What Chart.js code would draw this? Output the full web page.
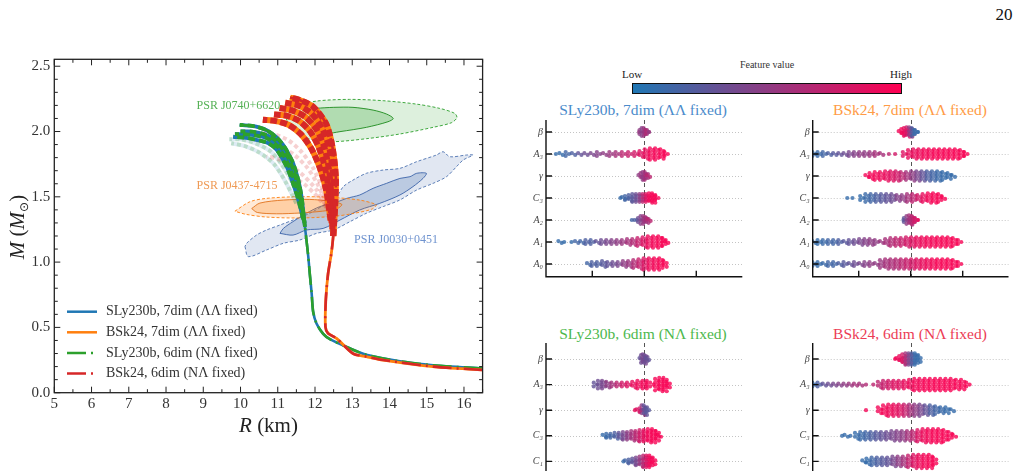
<!DOCTYPE html>
<html>
<head>
<meta charset="utf-8">
<script src="https://cdn.jsdelivr.net/npm/chart.js@4.4.1/dist/chart.umd.min.js"></script>
<style>
html, body { margin: 0; padding: 0; background: #fff; }
body { width: 1022px; height: 471px; overflow: hidden; position: relative; font-family: "Liberation Serif", serif; }
canvas { position: absolute; }
.txt { position: absolute; white-space: nowrap; transform: translate(-50%, -50%); line-height: 1; }
#cbar { position: absolute; left: 632px; top: 83px; width: 268px; height: 9px; border: 1.3px solid #111;
        background: linear-gradient(to right, rgb(31,119,180), rgb(255,0,82)); }
</style>
</head>
<body>
<div class="txt" style="left:1004px;top:14px;font-size:17px;color:#111">20</div>
<div class="txt" style="left:767px;top:65px;font-size:10px;color:#333">Feature value</div>
<div class="txt" style="left:632px;top:74px;font-size:11px;color:#222">Low</div>
<div class="txt" style="left:901px;top:74px;font-size:11px;color:#222">High</div>
<div id="cbar"></div>
<div class="txt" style="left:643px;top:110px;font-size:15.5px;color:#4b8bcb">SLy230b, 7dim (ΛΛ fixed)</div>
<div class="txt" style="left:910px;top:110px;font-size:15.5px;color:#ff9b45">BSk24, 7dim (ΛΛ fixed)</div>
<div class="txt" style="left:643px;top:334px;font-size:15.5px;color:#4db84d">SLy230b, 6dim (NΛ fixed)</div>
<div class="txt" style="left:910px;top:334px;font-size:15.5px;color:#ec3c55">BSk24, 6dim (NΛ fixed)</div>

<canvas id="mr"></canvas>
<canvas id="p1"></canvas>
<canvas id="p2"></canvas>
<canvas id="p3"></canvas>
<canvas id="p4"></canvas>

<script>
// ---------- mass-radius panel data (R in km, M in Msun) ----------
const xTicks = [5, 6, 7, 8, 9, 10, 11, 12, 13, 14, 15, 16];
const yTicks = [0, 0.5, 1.0, 1.5, 2.0, 2.5];

const slyTrunkR = [16.5, 15.17, 14.28, 13.38, 12.93, 12.4, 12.22, 12.04, 11.95, 11.91, 11.86, 11.82, 11.77, 11.73, 11.68, 11.64, 11.55, 11.41, 11.25, 11.14, 10.95, 10.7, 10.45, 10.25, 9.98];
const slyTrunkM = [0.185, 0.21, 0.24, 0.29, 0.34, 0.41, 0.45, 0.53, 0.62, 0.76, 0.91, 1.04, 1.17, 1.27, 1.40, 1.50, 1.63, 1.76, 1.85, 1.90, 1.96, 2.01, 2.035, 2.045, 2.05];
const slyBandR = [
  [11.73, 11.68, 11.64, 11.55, 11.41, 11.25, 11.14, 10.95, 10.7, 10.45, 10.25, 9.98],
  [11.72, 11.64, 11.56, 11.44, 11.3, 11.12, 10.9, 10.62, 10.3, 10.0],
  [11.70, 11.6, 11.48, 11.34, 11.15, 10.95, 10.7, 10.4, 10.05, 9.85],
  [11.68, 11.55, 11.4, 11.24, 10.97, 10.75, 10.52, 10.2, 9.8]
];
const slyBandM = [
  [1.27, 1.40, 1.50, 1.63, 1.76, 1.85, 1.90, 1.96, 2.01, 2.035, 2.045, 2.05],
  [1.30, 1.45, 1.56, 1.69, 1.79, 1.87, 1.94, 1.98, 2.0, 2.0],
  [1.32, 1.46, 1.59, 1.71, 1.82, 1.90, 1.95, 1.97, 1.98, 1.98],
  [1.33, 1.48, 1.61, 1.73, 1.86, 1.91, 1.93, 1.95, 1.96]
];
const slyFaintR = [
  [11.6, 11.4, 11.1, 10.8, 10.4, 10.0, 9.7],
  [11.5, 11.2, 10.9, 10.5, 10.1, 9.75]
];
const slyFaintM = [
  [1.42, 1.6, 1.75, 1.85, 1.91, 1.94, 1.94],
  [1.45, 1.62, 1.75, 1.84, 1.89, 1.91]
];

const bskTrunkR = [16.5, 15.17, 13.83, 13.38, 13.02, 12.58, 12.35, 12.28, 12.29, 12.35, 12.44, 12.49, 12.54, 12.56, 12.47, 12.3, 11.95, 11.6, 11.33];
const bskTrunkM = [0.174, 0.20, 0.25, 0.276, 0.30, 0.416, 0.455, 0.505, 0.71, 0.91, 1.07, 1.2, 1.42, 1.65, 1.88, 2.06, 2.19, 2.24, 2.26];
const bskBandR = [
  [12.49, 12.54, 12.56, 12.47, 12.3, 11.95, 11.6, 11.33],
  [12.49, 12.5, 12.48, 12.38, 12.18, 11.9, 11.55, 11.2],
  [12.47, 12.44, 12.38, 12.25, 12.03, 11.75, 11.4, 11.05],
  [12.45, 12.38, 12.27, 12.1, 11.87, 11.58, 11.25, 10.9],
  [12.42, 12.3, 12.12, 11.9, 11.62, 11.3, 10.95, 10.6]
];
const bskBandM = [
  [1.2, 1.42, 1.65, 1.88, 2.06, 2.19, 2.24, 2.26],
  [1.2, 1.45, 1.68, 1.88, 2.03, 2.14, 2.2, 2.22],
  [1.25, 1.5, 1.7, 1.88, 2.02, 2.11, 2.16, 2.18],
  [1.3, 1.52, 1.72, 1.88, 2.0, 2.08, 2.12, 2.13],
  [1.32, 1.55, 1.73, 1.87, 1.98, 2.05, 2.08, 2.09]
];
const bskFaintR = [
  [12.4, 12.2, 11.95, 11.65, 11.3, 10.9, 10.5],
  [12.38, 12.1, 11.8, 11.45, 11.1, 10.7],
  [12.35, 12.05, 11.7, 11.35, 11.0, 10.7],
  [12.3, 12.0, 11.7, 11.4]
];
const bskFaintM = [
  [1.35, 1.56, 1.72, 1.84, 1.93, 1.98, 2.0],
  [1.38, 1.58, 1.72, 1.82, 1.88, 1.92],
  [1.4, 1.55, 1.66, 1.74, 1.79, 1.81],
  [1.42, 1.52, 1.6, 1.65]
];

// pulsar constraints (outer = dashed, inner = solid)
const j0740OuterR = [11.42, 12.04, 12.93, 13.83, 14.72, 15.35, 15.75, 15.81, 15.66, 15.17, 14.28, 13.38, 12.49, 11.95, 11.5, 11.24, 11.28, 11.42];
const j0740OuterM = [2.19, 2.233, 2.246, 2.236, 2.21, 2.177, 2.139, 2.106, 2.067, 2.032, 1.981, 1.945, 1.922, 1.935, 1.986, 2.088, 2.152, 2.19];
const j0740InnerR = [12.04, 12.49, 13.02, 13.56, 13.92, 14.1, 13.96, 13.38, 12.67, 12.31, 12.04, 11.86, 11.9, 12.04];
const j0740InnerM = [2.178, 2.185, 2.185, 2.164, 2.134, 2.10, 2.075, 2.032, 1.999, 1.986, 2.011, 2.088, 2.152, 2.178];
const j0437OuterR = [9.85, 10.25, 10.7, 11.59, 12.49, 13.2, 13.56, 13.65, 13.52, 13.02, 12.49, 11.59, 10.7, 10.16, 9.9, 9.85];
const j0437OuterM = [1.39, 1.462, 1.488, 1.501, 1.495, 1.475, 1.45, 1.437, 1.405, 1.372, 1.35, 1.338, 1.345, 1.365, 1.385, 1.39];
const j0437InnerR = [10.3, 10.52, 11.15, 11.86, 12.4, 12.72, 12.6, 12.2, 11.59, 10.97, 10.45, 10.3];
const j0437InnerM = [1.41, 1.452, 1.475, 1.48, 1.466, 1.442, 1.41, 1.39, 1.376, 1.37, 1.38, 1.41];
const j0030OuterR = [10.12, 10.21, 10.70, 11.15, 11.59, 12.04, 12.49, 12.94, 13.38, 13.83, 14.28, 14.73, 15.17, 15.53, 15.80, 15.98, 16.24, 16.07, 15.62, 15.44, 15.26, 14.73, 14.28, 13.83, 13.38, 13.02, 12.76, 12.58, 12.31, 11.86, 11.41, 11.06, 10.70, 10.43, 10.16, 10.12];
const j0030OuterM = [1.118, 1.042, 1.093, 1.144, 1.169, 1.220, 1.246, 1.31, 1.374, 1.425, 1.476, 1.552, 1.603, 1.654, 1.731, 1.782, 1.82, 1.82, 1.807, 1.845, 1.82, 1.769, 1.718, 1.705, 1.680, 1.628, 1.578, 1.501, 1.450, 1.374, 1.322, 1.284, 1.246, 1.207, 1.143, 1.118];
const j0030InnerR = [11.06, 11.41, 11.77, 12.22, 12.67, 13.2, 13.74, 14.28, 14.63, 14.9, 14.99, 14.73, 14.55, 14.28, 13.92, 13.56, 13.2, 12.85, 12.49, 12.13, 11.77, 11.41, 11.15, 11.06];
const j0030InnerM = [1.22, 1.207, 1.246, 1.258, 1.322, 1.399, 1.45, 1.514, 1.578, 1.641, 1.68, 1.68, 1.654, 1.641, 1.603, 1.565, 1.514, 1.488, 1.45, 1.425, 1.374, 1.31, 1.258, 1.22];

const psrNames = ['PSR J0740+6620', 'PSR J0437-4715', 'PSR J0030+0451'];
const psrR = [8.82, 8.82, 13.05];
const psrM = [2.195, 1.583, 1.169];

const legendLabels = ['SLy230b, 7dim (ΛΛ fixed)', 'BSk24, 7dim (ΛΛ fixed)', 'SLy230b, 6dim (NΛ fixed)', 'BSk24, 6dim (NΛ fixed)'];

// ---------- SHAP beeswarm data: [shap value, stacked dots, feature value] ----------
const swarmRows7 = ['β', 'A₃', 'γ', 'C₃', 'A₂', 'A₁', 'A₀'];
const swarmRows6 = ['β', 'A₃', 'γ', 'C₃', 'C₁'];
const shapTicks = [-1, 0, 1];

const sly7Beta = [[-0.1,1,0.55],[-0.06,3,0.5],[-0.02,5,0.45],[0.02,5,0.55],[0.06,3,0.65],[0.09,1,0.5]];
const sly7A3 = [[-1.7,1,0.1],[-1.6,2,0.1],[-1.48,3,0.15],[-1.36,2,0.2],[-1.24,2,0.3],[-1.12,2,0.35],[-1.0,2,0.4],[-0.88,3,0.45],[-0.76,2,0.5],[-0.64,3,0.55],[-0.52,3,0.6],[-0.4,3,0.7],[-0.28,3,0.75],[-0.16,3,0.8],[-0.06,4,0.85],[0.04,6,0.9],[0.14,7,0.95],[0.24,7,0.95],[0.34,6,0.97],[0.42,3,0.97]];
const sly7Gamma = [[-0.08,2,0.5],[-0.04,4,0.55],[0.0,5,0.5],[0.04,5,0.6],[0.08,2,0.7]];
const sly7C3 = [[-0.46,1,0.1],[-0.4,2,0.12],[-0.34,3,0.15],[-0.27,4,0.2],[-0.2,5,0.28],[-0.13,5,0.35],[-0.06,5,0.5],[0.0,5,0.7],[0.06,5,0.85],[0.12,6,0.95],[0.18,6,0.97],[0.24,3,0.97]];
const sly7A2 = [[-0.24,1,0.15],[-0.19,1,0.2],[-0.14,1,0.2],[-0.09,3,0.35],[-0.04,5,0.45],[0.01,5,0.55],[0.05,4,0.6],[0.09,2,0.7]];
const sly7A1 = [[-1.62,2,0.1],[-1.54,1,0.1],[-1.4,1,0.1],[-1.3,2,0.15],[-1.2,2,0.15],[-1.1,3,0.2],[-1.0,3,0.2],[-0.9,2,0.3],[-0.8,3,0.35],[-0.7,3,0.4],[-0.6,3,0.45],[-0.5,3,0.5],[-0.4,3,0.55],[-0.3,4,0.6],[-0.2,4,0.65],[-0.1,5,0.75],[0.0,6,0.85],[0.1,7,0.92],[0.2,7,0.95],[0.3,7,0.97],[0.38,5,0.97],[0.43,2,0.97]];
const sly7A0 = [[-1.07,2,0.15],[-0.98,3,0.2],[-0.88,3,0.2],[-0.78,4,0.25],[-0.68,3,0.3],[-0.58,3,0.35],[-0.48,3,0.4],[-0.38,4,0.5],[-0.28,4,0.55],[-0.18,5,0.65],[-0.08,6,0.75],[0.02,7,0.85],[0.12,7,0.92],[0.22,7,0.95],[0.32,7,0.97],[0.4,4,0.97]];

const bsk7Beta = [[-0.2,2,0.95],[-0.15,4,0.95],[-0.1,5,0.9],[-0.05,6,0.8],[0.0,6,0.5],[0.05,5,0.2],[0.1,3,0.1],[0.14,1,0.1]];
const bsk7A3 = [[-1.86,3,0.1],[-1.76,3,0.12],[-1.66,3,0.15],[-1.56,2,0.2],[-1.46,2,0.25],[-1.36,2,0.3],[-1.26,2,0.35],[-1.16,3,0.4],[-1.06,3,0.45],[-0.96,3,0.5],[-0.86,3,0.5],[-0.76,3,0.55],[-0.66,3,0.6],[-0.56,2,0.6],[-0.42,1,0.7],[-0.3,1,0.8],[-0.12,3,0.85],[-0.02,5,0.9],[0.08,6,0.9],[0.18,6,0.92],[0.28,6,0.95],[0.38,6,0.95],[0.48,6,0.97],[0.58,6,0.97],[0.68,6,0.97],[0.78,6,0.97],[0.88,6,0.97],[0.98,5,0.97],[1.06,3,0.97]];
const bsk7Gamma = [[-0.84,2,0.95],[-0.76,4,0.95],[-0.66,5,0.95],[-0.56,5,0.92],[-0.46,6,0.9],[-0.36,6,0.85],[-0.26,6,0.8],[-0.16,5,0.7],[-0.06,5,0.6],[0.04,6,0.5],[0.14,6,0.4],[0.24,6,0.3],[0.34,6,0.2],[0.44,6,0.15],[0.54,6,0.12],[0.64,5,0.1],[0.74,4,0.1],[0.82,2,0.1]];
const bsk7C3 = [[-1.22,1,0.1],[-1.12,1,0.1],[-0.94,3,0.1],[-0.84,5,0.12],[-0.74,5,0.15],[-0.64,5,0.2],[-0.54,5,0.25],[-0.44,5,0.3],[-0.34,5,0.35],[-0.24,4,0.45],[-0.14,4,0.5],[-0.04,5,0.6],[0.06,5,0.7],[0.16,4,0.8],[0.26,5,0.9],[0.36,6,0.95],[0.46,6,0.97],[0.56,5,0.97],[0.63,2,0.97]];
const bsk7A2 = [[-0.14,1,0.2],[-0.1,3,0.3],[-0.05,5,0.5],[0.0,6,0.6],[0.05,5,0.7],[0.1,3,0.8],[0.14,1,0.9]];
const bsk7A1 = [[-1.86,2,0.1],[-1.76,3,0.1],[-1.66,3,0.12],[-1.56,3,0.15],[-1.46,3,0.15],[-1.36,3,0.2],[-1.26,2,0.25],[-1.16,3,0.3],[-1.06,3,0.35],[-0.96,4,0.4],[-0.86,4,0.45],[-0.76,4,0.5],[-0.66,3,0.5],[-0.56,2,0.55],[-0.46,4,0.6],[-0.36,5,0.65],[-0.26,5,0.7],[-0.16,5,0.75],[-0.06,6,0.8],[0.04,6,0.85],[0.14,6,0.9],[0.24,6,0.92],[0.34,6,0.95],[0.44,6,0.95],[0.54,6,0.97],[0.64,6,0.97],[0.74,6,0.97],[0.84,5,0.97],[0.94,3,0.97]];
const bsk7A0 = [[-1.86,3,0.1],[-1.76,3,0.1],[-1.66,2,0.12],[-1.56,3,0.15],[-1.46,3,0.15],[-1.36,2,0.2],[-1.26,3,0.25],[-1.16,2,0.3],[-1.06,3,0.35],[-0.96,2,0.4],[-0.86,3,0.45],[-0.76,3,0.5],[-0.66,2,0.5],[-0.56,5,0.55],[-0.46,6,0.6],[-0.36,6,0.62],[-0.26,6,0.65],[-0.16,6,0.7],[-0.06,6,0.75],[0.04,6,0.8],[0.14,6,0.85],[0.24,6,0.9],[0.34,6,0.92],[0.44,6,0.95],[0.54,6,0.97],[0.64,6,0.97],[0.74,6,0.97],[0.84,5,0.97],[0.94,3,0.97]];

const sly6Beta = [[-0.06,2,0.3],[-0.03,5,0.35],[0.0,6,0.4],[0.03,5,0.35],[0.06,2,0.3]];
const sly6A3 = [[-0.94,3,0.3],[-0.86,5,0.35],[-0.78,5,0.4],[-0.7,4,0.5],[-0.6,3,0.6],[-0.5,3,0.7],[-0.4,3,0.8],[-0.3,3,0.85],[-0.2,4,0.9],[-0.1,5,0.92],[0.0,5,0.95],[0.08,5,0.95],[0.18,1,0.97],[0.24,7,0.97],[0.32,8,0.97],[0.4,8,0.97],[0.46,4,0.97]];
const sly6Gamma = [[-0.18,1,0.9],[-0.12,2,0.85],[-0.06,3,0.8],[-0.02,6,0.5],[0.02,6,0.3],[0.06,3,0.25]];
const sly6C3 = [[-0.77,2,0.1],[-0.7,3,0.12],[-0.62,3,0.15],[-0.54,4,0.2],[-0.46,4,0.3],[-0.38,5,0.4],[-0.3,5,0.5],[-0.22,6,0.6],[-0.14,6,0.7],[-0.06,7,0.8],[0.02,7,0.9],[0.1,8,0.95],[0.18,8,0.97],[0.25,6,0.97],[0.29,2,0.97]];
const sly6C1 = [[-0.4,1,0.1],[-0.34,2,0.15],[-0.27,3,0.2],[-0.2,4,0.3],[-0.13,5,0.4],[-0.06,6,0.55],[0.01,7,0.7],[0.07,7,0.85],[0.13,7,0.95],[0.18,4,0.97]];

const bsk6Beta = [[-0.3,1,0.95],[-0.25,2,0.95],[-0.19,4,0.9],[-0.13,6,0.8],[-0.07,7,0.6],[-0.01,7,0.4],[0.05,7,0.2],[0.11,7,0.1],[0.16,4,0.1]];
const bsk6A3 = [[-1.86,3,0.1],[-1.76,3,0.2],[-1.66,2,0.3],[-1.56,2,0.35],[-1.46,2,0.4],[-1.36,2,0.45],[-1.26,2,0.5],[-1.16,2,0.55],[-1.06,2,0.6],[-0.96,2,0.6],[-0.86,1,0.65],[-0.72,1,0.7],[-0.6,4,0.7],[-0.5,5,0.75],[-0.4,5,0.8],[-0.3,5,0.85],[-0.2,5,0.85],[-0.1,5,0.9],[0.0,6,0.92],[0.1,7,0.95],[0.2,7,0.95],[0.3,7,0.97],[0.4,7,0.97],[0.5,7,0.97],[0.6,7,0.97],[0.7,7,0.97],[0.8,7,0.97],[0.9,6,0.97],[1.0,6,0.97],[1.1,3,0.97]];
const bsk6Gamma = [[-0.86,1,0.95],[-0.6,4,0.95],[-0.5,6,0.95],[-0.4,7,0.92],[-0.3,7,0.9],[-0.2,7,0.85],[-0.1,7,0.75],[0.0,7,0.6],[0.1,7,0.5],[0.2,7,0.4],[0.3,6,0.3],[0.4,6,0.2],[0.5,5,0.15],[0.6,4,0.12],[0.7,4,0.1],[0.8,2,0.1]];
const bsk6C3 = [[-1.32,1,0.1],[-1.24,2,0.1],[-1.16,1,0.1],[-1.04,4,0.1],[-0.94,5,0.12],[-0.84,5,0.15],[-0.74,5,0.2],[-0.64,5,0.25],[-0.54,5,0.3],[-0.44,5,0.35],[-0.34,6,0.4],[-0.24,6,0.45],[-0.14,6,0.5],[-0.04,6,0.6],[0.06,6,0.7],[0.16,7,0.85],[0.26,8,0.92],[0.36,8,0.95],[0.46,8,0.97],[0.56,8,0.97],[0.66,7,0.97],[0.76,5,0.97],[0.84,2,0.97]];
const bsk6C1 = [[-0.9,2,0.1],[-0.82,4,0.1],[-0.72,5,0.15],[-0.62,5,0.2],[-0.52,5,0.25],[-0.42,5,0.3],[-0.32,6,0.4],[-0.22,6,0.5],[-0.12,6,0.6],[-0.02,7,0.75],[0.08,8,0.85],[0.18,8,0.92],[0.28,8,0.95],[0.38,8,0.97],[0.46,5,0.97]];

// ---------- helpers ----------
const SERIF = '"Liberation Serif", "DejaVu Serif", serif';
const pts = (R, M) => R.map((r, i) => ({x: r, y: M[i]}));

const curve = (R, M, color, width, dash, order) => ({
  data: pts(R, M), borderColor: color, borderWidth: width, borderDash: dash || [],
  pointRadius: 0, fill: false, tension: 0.25, order: order
});
const contour = (R, M, line, fillCol, dash, order) => ({
  data: pts(R, M), borderColor: line, borderWidth: 1, borderDash: dash || [],
  backgroundColor: fillCol, fill: 'shape', pointRadius: 0, tension: 0.3, order: order
});

const BLUE = '#1f77b4', ORANGE = '#ff7f0e', GREEN = '#2ca02c', RED = '#d62728';
const legendColors = [BLUE, ORANGE, GREEN, RED];
const legendDash = [[], [], [19, 5, 2, 5], [19, 5, 2, 5]];
const psrColors = ['#55b155', '#ef9a55', '#6f93cf'];

const mrDatasets = [];
mrDatasets.push(contour(j0030OuterR, j0030OuterM, 'rgba(76,114,176,0.9)', 'rgba(76,114,176,0.17)', [3, 2], 21));
mrDatasets.push(contour(j0030InnerR, j0030InnerM, 'rgba(60,100,170,0.9)', 'rgba(76,114,176,0.25)', [], 20));
mrDatasets.push(contour(j0437OuterR, j0437OuterM, 'rgba(255,127,14,0.9)', 'rgba(255,127,14,0.16)', [3, 2], 19));
mrDatasets.push(contour(j0437InnerR, j0437InnerM, 'rgba(225,115,30,0.9)', 'rgba(255,127,14,0.25)', [], 18));
mrDatasets.push(contour(j0740OuterR, j0740OuterM, 'rgba(44,160,44,0.9)', 'rgba(44,160,44,0.16)', [3, 2], 17));
mrDatasets.push(contour(j0740InnerR, j0740InnerM, 'rgba(30,140,30,0.9)', 'rgba(44,160,44,0.25)', [], 16));
slyFaintR.forEach((R, i) => {
  mrDatasets.push(curve(R, slyFaintM[i], 'rgba(31,119,180,0.15)', 4, [], 12));
  mrDatasets.push(curve(R, slyFaintM[i], 'rgba(44,160,44,0.2)', 4, [4, 3], 11));
});
bskFaintR.forEach((R, i) => mrDatasets.push(curve(R, bskFaintM[i], 'rgba(214,39,40,0.22)', 4, [4, 3], 10)));
mrDatasets.push(curve(slyTrunkR, slyTrunkM, BLUE, 2.6, [], 8));
slyBandR.forEach((R, i) => mrDatasets.push(curve(R, slyBandM[i], BLUE, 3.8, [], 8)));
mrDatasets.push(curve(slyTrunkR, slyTrunkM, GREEN, 2.6, [19, 5, 2, 5], 7));
slyBandR.forEach((R, i) => mrDatasets.push(curve(R, slyBandM[i], GREEN, 3.8, [7, 4], 7)));
mrDatasets.push(curve(bskTrunkR, bskTrunkM, ORANGE, 2.8, [], 6));
bskBandR.forEach((R, i) => mrDatasets.push(curve(R, bskBandM[i], ORANGE, 6, [], 6)));
mrDatasets.push(curve(bskTrunkR, bskTrunkM, RED, 2.6, [19, 5, 2, 5], 5));
bskBandR.forEach((R, i) => mrDatasets.push(curve(R, bskBandM[i], RED, 6, [7, 3], 5)));

function drawTicksMR(ctx, a, x, y) {
  ctx.beginPath();
  for (let v = 5; v <= 16.5; v += 0.5) {
    const px = x.getPixelForValue(v);
    const len = Number.isInteger(v) ? 6 : 3.5;
    ctx.moveTo(px, a.bottom); ctx.lineTo(px, a.bottom - len);
    ctx.moveTo(px, a.top); ctx.lineTo(px, a.top + len);
  }
  for (let k = 0; k <= 25; k++) {
    const py = y.getPixelForValue(k / 10);
    const len = k % 5 === 0 ? 6 : 3.5;
    ctx.moveTo(a.left, py); ctx.lineTo(a.left + len, py);
    ctx.moveTo(a.right, py); ctx.lineTo(a.right - len, py);
  }
  ctx.stroke();
}

const mrDecor = {
  id: 'mrDecor',
  beforeDatasetsDraw(chart) {
    const {ctx, scales: {x, y}} = chart;
    ctx.save();
    ctx.font = '12px ' + SERIF;
    ctx.textBaseline = 'middle';
    psrNames.forEach((t, i) => {
      ctx.fillStyle = psrColors[i];
      ctx.fillText(t, x.getPixelForValue(psrR[i]), y.getPixelForValue(psrM[i]));
    });
    ctx.restore();
  },
  afterDraw(chart) {
    const {ctx, chartArea: a, scales: {x, y}} = chart;
    ctx.save();
    ctx.strokeStyle = '#222';
    ctx.lineWidth = 1.3;
    ctx.strokeRect(a.left, a.top, a.right - a.left, a.bottom - a.top);
    ctx.lineWidth = 1;
    drawTicksMR(ctx, a, x, y);

    // legend
    ctx.font = '14px ' + SERIF;
    ctx.textBaseline = 'middle';
    legendLabels.forEach((lab, i) => {
      const ly = 311.7 + i * 20.6;
      ctx.strokeStyle = legendColors[i];
      ctx.lineWidth = 2.5;
      ctx.setLineDash(legendDash[i]);
      ctx.beginPath(); ctx.moveTo(67, ly); ctx.lineTo(97, ly); ctx.stroke();
      ctx.setLineDash([]);
      ctx.fillStyle = '#333';
      ctx.fillText(lab, 106, ly);
    });

    // axis titles
    ctx.fillStyle = '#222';
    ctx.textBaseline = 'alphabetic';
    const pieces = (parts) => parts.reduce((w, p) => { ctx.font = p[1]; return w + ctx.measureText(p[0]).width; }, 0);
    const put = (parts, x0, y0) => {
      let cx = x0;
      parts.forEach(p => { ctx.font = p[1]; ctx.fillText(p[0], cx, y0 + (p[2] || 0)); cx += ctx.measureText(p[0]).width; });
    };
    const xt = [['R', 'italic 21px ' + SERIF], [' (km)', '21px ' + SERIF]];
    put(xt, 268.5 - pieces(xt) / 2, 432);
    const yt = [['M', 'italic 21px ' + SERIF], [' (', '21px ' + SERIF], ['M', 'italic 21px ' + SERIF], ['⊙', '12px "DejaVu Sans", ' + SERIF, 4], [')', '21px ' + SERIF]];
    ctx.translate(16.5, 227);
    ctx.rotate(-Math.PI / 2);
    put(yt, -pieces(yt) / 2, 7);
    ctx.restore();
  }
};

const mrCanvas = document.getElementById('mr');
mrCanvas.width = 500; mrCanvas.height = 471;
mrCanvas.style.left = '0px'; mrCanvas.style.top = '0px';
new Chart(mrCanvas, {
  type: 'line',
  data: {datasets: mrDatasets},
  options: {
    responsive: false, animation: false, events: [],
    layout: {padding: {left: 0, top: 59.3, right: 17.4, bottom: 0}},
    plugins: {legend: {display: false}, tooltip: {enabled: false}},
    scales: {
      x: {
        type: 'linear', min: 5, max: 16.5,
        afterBuildTicks: s => { s.ticks = xTicks.map(v => ({value: v})); },
        afterFit: s => { s.height = 78.3; },
        grid: {display: false, drawTicks: false}, border: {display: false},
        ticks: {padding: 2, color: '#333', font: {family: SERIF, size: 15}, autoSkip: false, maxRotation: 0,
                callback: v => String(v)}
      },
      y: {
        type: 'linear', min: 0, max: 2.553,
        afterBuildTicks: s => { s.ticks = yTicks.map(v => ({value: v})); },
        afterFit: s => { s.width = 54.3; },
        grid: {display: false, drawTicks: false}, border: {display: false},
        ticks: {padding: 4, color: '#333', font: {family: SERIF, size: 15}, autoSkip: false,
                callback: v => v.toFixed(1)}
      }
    }
  },
  plugins: [mrDecor]
});

// ---------- beeswarm panels ----------
const LOW = [31, 119, 180], HIGH = [255, 0, 82];
function featColor(f) {
  const c = LOW.map((l, i) => Math.round(l + (HIGH[i] - l) * f));
  return `rgba(${c[0]},${c[1]},${c[2]},0.8)`;
}

const swarmFrame = {
  id: 'swarmFrame',
  beforeDatasetsDraw(chart) {
    const {ctx, chartArea: a, scales: {x, y}} = chart;
    const labels = chart.options.plugins.swarmFrame.labels;
    ctx.save();
    ctx.strokeStyle = '#b5b5b5';
    ctx.lineWidth = 0.8;
    ctx.setLineDash([1, 2]);
    ctx.beginPath();
    labels.forEach((_, i) => { const py = Math.round(y.getPixelForValue(i)) + 0.5; ctx.moveTo(a.left, py); ctx.lineTo(a.right, py); });
    ctx.stroke();
    ctx.strokeStyle = '#555';
    ctx.lineWidth = 1;
    ctx.setLineDash([4, 3]);
    ctx.beginPath();
    const zx = Math.round(x.getPixelForValue(0)) + 0.5;
    ctx.moveTo(zx, a.top); ctx.lineTo(zx, a.bottom);
    ctx.stroke();
    ctx.restore();
  },
  afterDraw(chart) {
    const {ctx, chartArea: a, scales: {x, y}} = chart;
    const labels = chart.options.plugins.swarmFrame.labels;
    ctx.save();
    ctx.strokeStyle = '#111';
    ctx.lineWidth = 1.4;
    ctx.beginPath();
    ctx.moveTo(a.left, a.top); ctx.lineTo(a.left, a.bottom); ctx.lineTo(a.right, a.bottom);
    labels.forEach((_, i) => { const py = y.getPixelForValue(i); ctx.moveTo(a.left, py); ctx.lineTo(a.left + 6, py); });
    shapTicks.forEach(v => { const px = x.getPixelForValue(v); ctx.moveTo(px, a.bottom); ctx.lineTo(px, a.bottom - 6); });
    ctx.stroke();
    ctx.restore();
  }
};

function swarmChart(id, rows, labels, box, xMin, xMax, yMin, yMax) {
  const stepUnits = 1.9 * (yMax - yMin) / (box.bottom - box.top);
  const data = [], cols = [];
  rows.forEach((bins, r) => bins.forEach(([u, n, f]) => {
    for (let k = 0; k < n; k++) {
      data.push({x: u + (n > 1 ? (k % 2 ? 0.032 : -0.032) : 0), y: r + (k - (n - 1) / 2) * stepUnits});
      cols.push(featColor(f));
    }
  }));
  const cv = document.getElementById(id);
  const left = Math.round(box.left) - 30, top = Math.round(box.top) - 20;
  const w = Math.ceil(box.right - left + 12), h = Math.ceil(box.bottom - top + 10);
  cv.width = w; cv.height = h;
  cv.style.left = left + 'px'; cv.style.top = top + 'px';
  return new Chart(cv, {
    type: 'scatter',
    data: {datasets: [{data: data, pointRadius: 2.1, pointBorderWidth: 0, pointBackgroundColor: cols, backgroundColor: cols, borderColor: 'transparent'}]},
    options: {
      responsive: false, animation: false, events: [],
      layout: {padding: {left: 0, top: box.top - top, right: w - (box.right - left), bottom: h - (box.bottom - top)}},
      plugins: {legend: {display: false}, tooltip: {enabled: false}, swarmFrame: {labels: labels}},
      scales: {
        x: {type: 'linear', display: false, min: xMin, max: xMax},
        y: {
          type: 'linear', reverse: true, min: yMin, max: yMax,
          afterBuildTicks: s => { s.ticks = labels.map((_, i) => ({value: i})); },
          afterFit: s => { s.width = box.left - left; },
          grid: {display: false, drawTicks: false}, border: {display: false},
          ticks: {padding: 3, autoSkip: false, color: '#444', font: {family: SERIF, size: 10, style: 'italic'},
                  callback: v => labels[v] || ''}
        }
      }
    },
    plugins: [swarmFrame]
  });
}

swarmChart('p1', [sly7Beta, sly7A3, sly7Gamma, sly7C3, sly7A2, sly7A1, sly7A0], swarmRows7,
  {left: 546, top: 120, right: 742.3, bottom: 276.7}, -1.89, 1.885, -0.545, 6.577);
swarmChart('p2', [bsk7Beta, bsk7A3, bsk7Gamma, bsk7C3, bsk7A2, bsk7A1, bsk7A0], swarmRows7,
  {left: 812.7, top: 120, right: 1008.5, bottom: 276.7}, -1.885, 1.881, -0.545, 6.577);
swarmChart('p3', [sly6Beta, sly6A3, sly6Gamma, sly6C3, sly6C1], swarmRows6,
  {left: 546, top: 343, right: 742.3, bottom: 520}, -1.89, 1.885, -0.625, 6.29);
swarmChart('p4', [bsk6Beta, bsk6A3, bsk6Gamma, bsk6C3, bsk6C1], swarmRows6,
  {left: 812.7, top: 343, right: 1008.5, bottom: 520}, -1.885, 1.881, -0.625, 6.29);
</script>
</body>
</html>
